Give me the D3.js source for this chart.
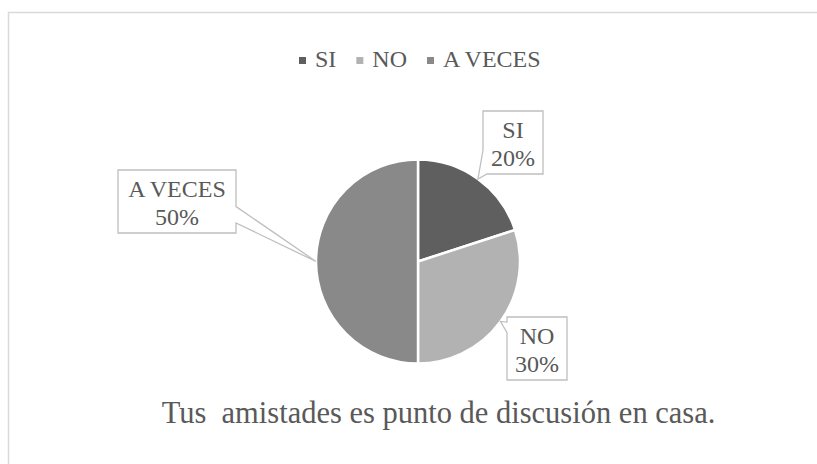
<!DOCTYPE html>
<html><head><meta charset="utf-8">
<script src="https://cdn.jsdelivr.net/npm/d3@7"></script>
</head><body style="margin:0">
<svg id="c" width="817" height="464" style="display:block;font-family:'Liberation Serif'"></svg>
<script>
const categories = ["SI", "NO", "A VECES"];
const values = [20, 30, 50];
const colors = ["#5f5f5f", "#b2b2b2", "#898989"];
const title = "Tus\u00a0 amistades es punto de discusión en casa.";

const svg = d3.select("#c");
function label(sel) { return sel.style("font-family", "'Liberation Serif'").attr("fill", "#595959"); }

svg.append("rect").attr("x", 8.5).attr("y", 12.5).attr("width", 830).attr("height", 480)
  .attr("fill", "#fff").attr("stroke", "#d9d9d9").attr("stroke-width", 1.5);

// title
label(svg.append("text")).attr("x", 438.5).attr("y", 423).attr("text-anchor", "middle")
  .attr("font-size", 30.5).text(title);

// legend
const lg = svg.append("g");
let lx = 299;
categories.forEach((c, i) => {
  lg.append("rect").attr("x", lx).attr("y", 57).attr("width", 7).attr("height", 7).attr("fill", colors[i]);
  const t = label(lg.append("text")).attr("x", lx + 16).attr("y", 67).attr("font-size", 24).text(c);
  lx += 16 + t.node().getComputedTextLength() + 20;
});

// pie
const cx = 418, cy = 261.5, r = 102;
const pie = d3.pie().sort(null).value(d => d)(values);
const arc = d3.arc().innerRadius(0).outerRadius(r);
const g = svg.append("g").attr("transform", `translate(${cx},${cy})`);
g.selectAll("path").data(pie).join("path").attr("d", arc)
  .attr("fill", (d, i) => colors[i]).attr("stroke", "#fff").attr("stroke-width", 2.5);

// callouts
const boxes = [
  {x: 483, y: 111, w: 60, h: 63, side: "left", a: 0.62, b: 1.0},
  {x: 507, y: 317, w: 60, h: 63, side: "left", a: 0.08, b: 0.25},
  {x: 118, y: 170, w: 118, h: 63, side: "right", a: 0.58, b: 0.84}
];
pie.forEach((d, i) => {
  const bx = boxes[i];
  const ang = (d.startAngle + d.endAngle) / 2;
  const px = cx + r * Math.sin(ang), py = cy - r * Math.cos(ang);
  let pts;
  const {x, y, w, h} = bx;
  if (bx.side === "left") {
    pts = [[x, y], [x + w, y], [x + w, y + h], [x, y + h], [x, y + h * bx.b], [px, py], [x, y + h * bx.a]];
    if (bx.b >= 1) pts = [[x, y], [x + w, y], [x + w, y + h], [x + 4, y + h], [px, py], [x, y + h * bx.a]];
  } else {
    pts = [[x, y], [x + w, y], [x + w, y + h * bx.a], [px, py], [x + w, y + h * bx.b], [x + w, y + h], [x, y + h]];
  }
  svg.append("path").attr("d", "M" + pts.map(p => p.join(",")).join("L") + "Z")
    .attr("fill", "#fff").attr("stroke", "#bfbfbf").attr("stroke-width", 1.3);
  label(svg.append("text")).attr("x", x + w / 2).attr("y", y + 27).attr("text-anchor", "middle")
    .attr("font-size", 24).text(categories[i]);
  label(svg.append("text")).attr("x", x + w / 2).attr("y", y + 55).attr("text-anchor", "middle")
    .attr("font-size", 24).text(d3.format(".0%")(d.value / d3.sum(values)));
});
</script>
</body></html>
